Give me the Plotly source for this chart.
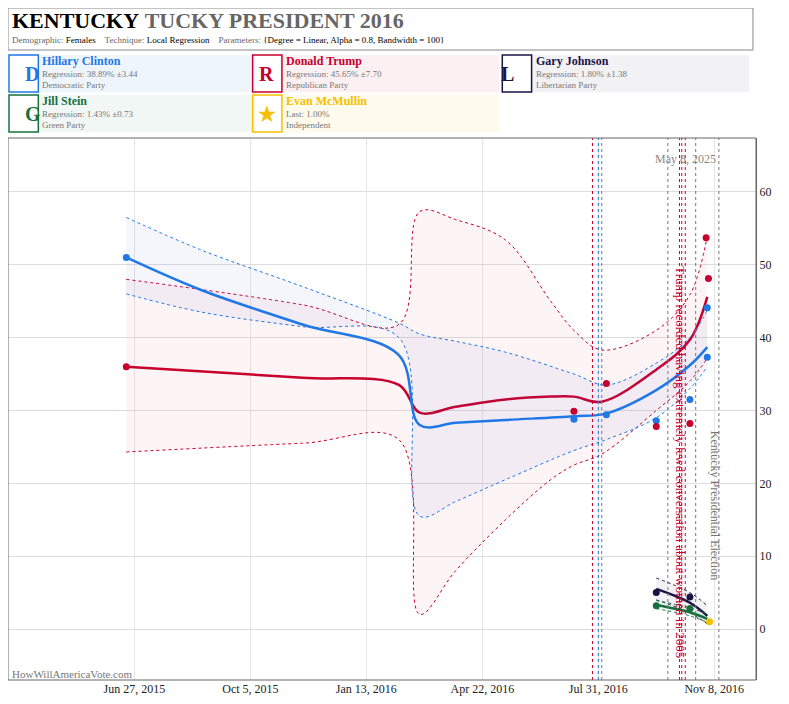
import plotly.graph_objects as go

# ----- Data -----
clinton_dates = ['2015-06-20', '2015-08-24', '2015-11-19', '2016-02-10', '2016-02-28', '2016-03-30', '2016-05-12',
                 '2016-07-10', '2016-08-07', '2016-09-19', '2016-10-18', '2016-11-02']
clinton_fit = [51.0, 46.5, 41.8, 37.6, 28.0, 28.3, 28.7, 29.2, 29.6, 32.8, 36.2, 38.7]
clinton_hi = [56.5, 52.0, 47.0, 42.0, 40.5, 39.5, 38.0, 35.0, 33.5, 36.5, 40.0, 43.8]
clinton_lo = [46.0, 43.5, 41.5, 40.0, 15.5, 17.5, 20.5, 24.5, 26.0, 29.0, 33.0, 36.0]

trump_dates = ['2015-06-20', '2015-11-19', '2016-02-10', '2016-02-28', '2016-03-30', '2016-05-12',
               '2016-06-20', '2016-07-10', '2016-08-03', '2016-09-19', '2016-10-18', '2016-11-02']
trump_fit = [36.0, 34.5, 33.5, 29.7, 30.5, 31.5, 31.9, 31.9, 31.2, 35.6, 39.7, 45.6]
trump_hi = [48.0, 44.5, 41.8, 57.3, 56.2, 53.4, 45.0, 41.0, 38.3, 41.0, 45.9, 54.0]
trump_lo = [24.3, 25.5, 26.0, 2.0, 8.0, 15.0, 20.5, 22.5, 24.0, 30.0, 34.0, 37.2]

clinton_poll_dates = ['2015-06-20', '2016-07-10', '2016-08-07', '2016-09-19', '2016-10-18', '2016-11-02', '2016-11-02']
clinton_polls = [51.0, 28.8, 29.4, 28.6, 31.5, 44.1, 37.3]
trump_poll_dates = ['2015-06-20', '2016-07-10', '2016-08-07', '2016-09-19', '2016-10-18', '2016-11-03', '2016-11-01']
trump_polls = [36.0, 29.9, 33.7, 27.8, 28.2, 48.1, 53.7]

minor_dates = ['2016-09-19', '2016-10-18', '2016-11-02']
johnson_fit = [5.5, 3.6, 1.8]
johnson_hi = [7.0, 5.0, 3.2]
johnson_lo = [4.0, 2.2, 0.7]
johnson_poll_dates = ['2016-09-19', '2016-10-18']
johnson_polls = [5.0, 4.4]
stein_fit = [3.3, 2.3, 1.4]
stein_hi = [3.9, 2.9, 2.0]
stein_lo = [2.8, 1.8, 0.9]
stein_polls = [3.2, 2.8]
mcmullin_dates = ['2016-11-04']
mcmullin_polls = [1.0]

event_dates = ['2016-07-26', '2016-07-31', '2016-08-03', '2016-09-29', '2016-10-09', '2016-10-11', '2016-10-14', '2016-10-23', '2016-11-12']
event_colors = ['#c8002d', '#1f78e6', '#777777', '#777777', '#c8002d', '#c8002d', '#c8002d', '#777777', '#777777']

x_ticks = ['2015-06-27', '2015-10-05', '2016-01-13', '2016-04-22', '2016-07-31', '2016-11-08']
x_tick_labels = ['Jun 27, 2015', 'Oct 5, 2015', 'Jan 13, 2016', 'Apr 22, 2016', 'Jul 31, 2016', 'Nov 8, 2016']

BLUE, RED, NAVY, GREEN, GOLD = '#1f78e6', '#c8002d', '#1a1446', '#17703c', '#f5c000'
SERIF = 'Liberation Serif'

fig = go.Figure()


def band(x, hi, lo, fit, color, fill, line_w=2.5):
    fig.add_trace(go.Scatter(x=x, y=hi, mode='lines', line=dict(color=color, width=1, dash='dot', shape='spline'), hoverinfo='skip'))
    fig.add_trace(go.Scatter(x=x, y=lo, mode='lines', line=dict(color=color, width=1, dash='dot', shape='spline'),
                             fill='tonexty', fillcolor=fill, hoverinfo='skip'))
    fig.add_trace(go.Scatter(x=x, y=fit, mode='lines', line=dict(color=color, width=line_w, shape='spline')))


band(trump_dates, trump_hi, trump_lo, trump_fit, RED, 'rgba(220,60,100,0.06)')
band(clinton_dates, clinton_hi, clinton_lo, clinton_fit, BLUE, 'rgba(60,100,200,0.06)')
band(minor_dates, johnson_hi, johnson_lo, johnson_fit, NAVY, 'rgba(26,20,70,0.06)')
band(minor_dates, stein_hi, stein_lo, stein_fit, GREEN, 'rgba(23,112,60,0.06)')

for dates, vals, color in [(clinton_poll_dates, clinton_polls, BLUE), (trump_poll_dates, trump_polls, RED),
                           (johnson_poll_dates, johnson_polls, NAVY), (johnson_poll_dates, stein_polls, GREEN),
                           (mcmullin_dates, mcmullin_polls, GOLD)]:
    fig.add_trace(go.Scatter(x=dates, y=vals, mode='markers', marker=dict(color=color, size=7)))

for d, c in zip(event_dates, event_colors):
    fig.add_vline(x=d, line=dict(color=c, width=1, dash='dot'))

# ----- Layout helpers (page pixel -> paper); the page puts the figure 8px in from the corner -----
PL, PW, PH, PB = 8, 740, 542, 680


def px(x):
    return (x - PL) / PW


def py(y):
    return (PB - y) / PH


fig.add_shape(type='rect', xref='paper', yref='paper', x0=px(8), x1=px(745), y0=py(50), y1=py(8),
              line=dict(color='#888', width=1))
fig.add_shape(type='rect', xref='paper', yref='paper', x0=0, x1=1, y0=0, y1=1, line=dict(color='#666', width=1))


def note(x, y, text, size, color, **kw):
    fig.add_annotation(x=px(x), y=py(y), xref='paper', yref='paper', text=text, showarrow=False,
                       font=dict(family=SERIF, size=size, color=color), **kw)


note(10, 21, '<b>KENTUCKY</b> <b><span style="color:#666">TUCKY PRESIDENT 2016</span></b>', 22, '#000',
     xanchor='left', yanchor='middle')
note(10, 40, 'Demographic: <span style="color:#000">Females</span>    Technique: <span style="color:#000">Local Regression</span>'
             '    Parameters: <span style="color:#000">{Degree = Linear, Alpha = 0.8, Bandwidth = 100}</span>',
     9, '#666', xanchor='left', yanchor='middle')
note(710, 150, 'May 8, 2025', 12, '#888')
note(10, 674, 'HowWillAmericaVote.com', 11, '#777', xanchor='left', yanchor='middle')
note(683, 462, 'Trump recorded having extremely lewd conversation about women in 2005', 13, RED, textangle=90)
note(717, 582, 'Kentucky Presidential Election', 12, '#777', textangle=90)

candidates = [
    ('Hillary Clinton', 'Regression: 38.89% ±3.44', 'Democratic Party', BLUE, 'rgba(31,120,230,0.07)', 8, 55, 'D'),
    ('Donald Trump', 'Regression: 45.65% ±7.70', 'Republican Party', RED, 'rgba(200,0,45,0.06)', 249, 55, 'R'),
    ('Gary Johnson', 'Regression: 1.80% ±1.38', 'Libertarian Party', NAVY, 'rgba(26,20,70,0.06)', 496, 55, 'L'),
    ('Jill Stein', 'Regression: 1.43% ±0.73', 'Green Party', GREEN, 'rgba(23,112,60,0.06)', 8, 95, 'G'),
    ('Evan McMullin', 'Last: 1.00%', 'Independent', GOLD, 'rgba(245,192,0,0.07)', 249, 95, '★'),
]
for name, reg, party, color, tint, x0, y0, icon in candidates:
    fig.add_shape(type='rect', xref='paper', yref='paper', x0=px(x0 + 30), x1=px(x0 + 245), y0=py(y0 + 37), y1=py(y0),
                  fillcolor=tint, line=dict(width=0), layer='below')
    fig.add_shape(type='rect', xref='paper', yref='paper', x0=px(x0 + 1), x1=px(x0 + 30), y0=py(y0 + 37), y1=py(y0),
                  line=dict(color=color, width=1.5))
    note(x0 + 15, y0 + 19, f'<b>{icon}</b>', 20, color, yanchor='middle')
    note(x0 + 32, y0 + 6, f'<b>{name}</b>', 12, color, xanchor='left', yanchor='middle')
    note(x0 + 32, y0 + 19, reg, 9, '#777', xanchor='left', yanchor='middle')
    note(x0 + 32, y0 + 30, party, 9, '#777', xanchor='left', yanchor='middle')

fig.update_layout(
    width=781, height=696, margin=dict(l=0, r=33, t=130, b=24),
    paper_bgcolor='white', plot_bgcolor='white', showlegend=False,
    font=dict(family=SERIF, size=12, color='#333'),
    xaxis=dict(range=['2015-03-10', '2016-12-14'], tickvals=x_ticks, ticktext=x_tick_labels,
               showgrid=True, gridcolor='#e6e6e6', zeroline=False, tickfont=dict(size=12, color='#222')),
    yaxis=dict(range=[-7, 67.4], side='right', dtick=10, showgrid=True, gridcolor='#dddddd', zeroline=False,
               tickfont=dict(size=12, color='#222'), ticks='', showline=True, linecolor='#666'),
)

fig.write_html('out.html')
